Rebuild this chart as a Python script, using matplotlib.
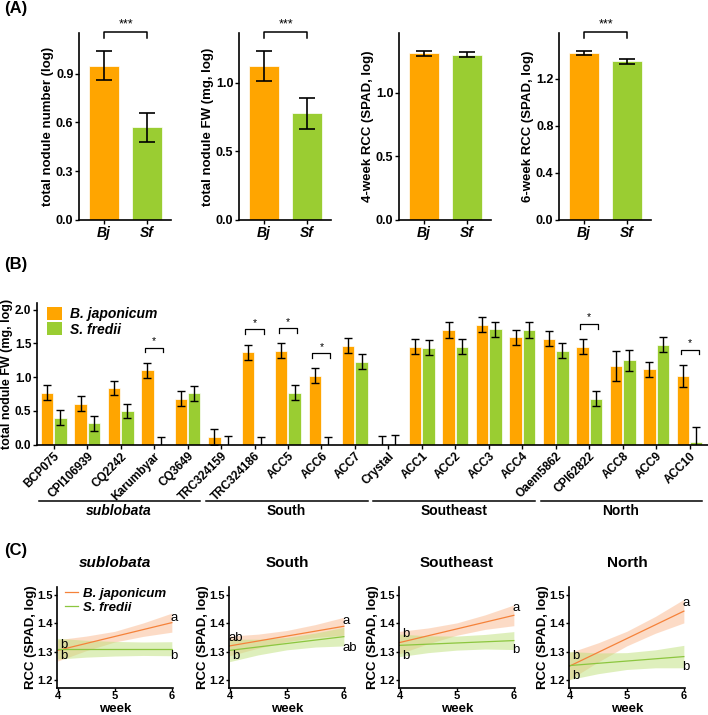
import matplotlib
matplotlib.use("Agg")
import matplotlib.pyplot as plt
import numpy as np
from matplotlib.patches import Patch

plt.rcParams['font.family'] = ['Liberation Sans', 'DejaVu Sans']
plt.rcParams['font.weight'] = 'bold'
plt.rcParams['axes.labelweight'] = 'bold'

W, H = 708, 715
ORANGE = '#FFA500'
GREEN = '#9ACD32'
LORANGE = '#F5823A'

# ---------------- Panel A data ----------------
a_ylabels = ['total nodule number (log)', 'total nodule FW (mg, log)',
             '4-week RCC (SPAD, log)', '6-week RCC (SPAD, log)']
a_cats = ['Bj', 'Sf']
a_means = [[0.95, 0.57], [1.12, 0.775], [1.31, 1.30], [1.42, 1.35]]
a_errs = [[0.09, 0.09], [0.11, 0.11], [0.02, 0.02], [0.02, 0.02]]
a_sig = ['***', '***', '', '***']
a_yticks = [[0.0, 0.3, 0.6, 0.9], [0.0, 0.5, 1.0], [0.0, 0.5, 1.0], [0.0, 0.4, 0.8, 1.2]]
a_ylim = [1.15, 1.36, 1.47, 1.59]

# ---------------- Panel B data ----------------
strains = ['BCP075', 'CPI106939', 'CQ2242', 'Karumbyar', 'CQ3649',
           'TRC324159', 'TRC324186', 'ACC5', 'ACC6', 'ACC7',
           'Crystal', 'ACC1', 'ACC2', 'ACC3', 'ACC4',
           'Oaem5862', 'CPI62822', 'ACC8', 'ACC9', 'ACC10']
bj_mean = [0.77, 0.61, 0.84, 1.10, 0.68, 0.12, 1.37, 1.39, 1.02, 1.47,
           0.0, 1.45, 1.70, 1.78, 1.59, 1.57, 1.45, 1.17, 1.12, 1.02]
bj_err = [0.11, 0.11, 0.11, 0.11, 0.11, 0.12, 0.11, 0.11, 0.11, 0.11,
          0.13, 0.11, 0.12, 0.11, 0.11, 0.11, 0.11, 0.22, 0.11, 0.16]
sf_mean = [0.40, 0.32, 0.50, 0.0, 0.76, 0.0, 0.0, 0.77, 0.0, 1.23,
           0.0, 1.44, 1.45, 1.71, 1.70, 1.39, 0.68, 1.25, 1.48, 0.035]
sf_err = [0.11, 0.11, 0.11, 0.11, 0.11, 0.13, 0.11, 0.11, 0.11, 0.11,
          0.15, 0.11, 0.11, 0.11, 0.12, 0.11, 0.11, 0.16, 0.11, 0.23]
sig_idx = [3, 6, 7, 8, 16, 19]
groups = ['sublobata', 'South', 'Southeast', 'North']

# ---------------- Panel C data ----------------
weeks = [4, 6]
band_x = [4, 4.5, 5, 5.5, 6]
c_bj_line = [[1.304, 1.403], [1.320, 1.390], [1.332, 1.429], [1.248, 1.444]]
c_sf_line = [[1.310, 1.310], [1.304, 1.353], [1.322, 1.339], [1.250, 1.282]]
c_bj_lo = [[1.266, 1.303, 1.334, 1.354, 1.369],
           [1.285, 1.312, 1.335, 1.350, 1.358],
           [1.292, 1.328, 1.358, 1.379, 1.392],
           [1.200, 1.263, 1.320, 1.365, 1.402]]
c_bj_hi = [[1.342, 1.355, 1.372, 1.402, 1.437],
           [1.355, 1.362, 1.375, 1.396, 1.422],
           [1.372, 1.384, 1.402, 1.431, 1.466],
           [1.296, 1.331, 1.372, 1.425, 1.486]]
c_sf_lo = [[1.273, 1.280, 1.284, 1.286, 1.285],
           [1.264, 1.288, 1.306, 1.316, 1.320],
           [1.282, 1.296, 1.305, 1.309, 1.307],
           [1.200, 1.221, 1.236, 1.242, 1.242]]
c_sf_hi = [[1.347, 1.340, 1.336, 1.334, 1.335],
           [1.344, 1.344, 1.350, 1.366, 1.386],
           [1.362, 1.356, 1.355, 1.361, 1.371],
           [1.300, 1.295, 1.296, 1.306, 1.322]]
c_letters = [
    [(4.1, 1.322, 'b'), (4.1, 1.283, 'b'), (6.0, 1.418, 'a'), (6.0, 1.283, 'b')],
    [(4.1, 1.348, 'ab'), (4.1, 1.283, 'b'), (6.0, 1.409, 'a'), (6.0, 1.311, 'ab')],
    [(4.1, 1.362, 'b'), (4.1, 1.283, 'b'), (6.0, 1.456, 'a'), (6.0, 1.305, 'b')],
    [(4.1, 1.284, 'b'), (4.1, 1.212, 'b'), (6.0, 1.474, 'a'), (6.0, 1.244, 'b')],
]

fig = plt.figure(figsize=(W / 100, H / 100), dpi=100)


def ax_px(l, t, r, b):
    return fig.add_axes([l / W, 1 - b / H, (r - l) / W, (b - t) / H])


def style(ax, fs=8, length=3, pad=1.2):
    for s in ['top', 'right']:
        ax.spines[s].set_visible(False)
    for s in ['left', 'bottom']:
        ax.spines[s].set_linewidth(1.2)
    ax.tick_params(width=1.0, length=length, labelsize=fs, pad=pad)
    for lab in ax.get_xticklabels() + ax.get_yticklabels():
        lab.set_fontweight('bold')


# ---------------- Panel A ----------------
fig.text(4 / W, 1 - 9 / H, '(A)', fontsize=12, fontweight='bold', va='center')
lefts = [79, 239, 399, 559]
for i in range(4):
    ax = ax_px(lefts[i], 33, lefts[i] + 92, 220)
    x = np.arange(2)
    ax.bar(x, a_means[i], width=0.7, color=[ORANGE, GREEN], edgecolor='white', linewidth=0.5)
    ax.errorbar(x, a_means[i], yerr=a_errs[i], fmt='none', ecolor='black',
                elinewidth=1.2, capsize=6, capthick=1.2)
    ax.set_xlim(-0.58, 1.55)
    ax.set_ylim(0, a_ylim[i])
    ax.set_yticks(a_yticks[i])
    ax.set_yticklabels([f'{v:.1f}' for v in a_yticks[i]])
    ax.set_xticks(x)
    ax.set_xticklabels(a_cats)
    ax.set_ylabel(a_ylabels[i], fontsize=9.5)
    ax.yaxis.label.set_va('center')
    ax.yaxis.set_label_coords(-0.335, 0.5)
    style(ax, 9, length=3, pad=1)
    for lab in ax.get_xticklabels():
        lab.set_fontstyle('italic')
        lab.set_fontsize(10)
    if a_sig[i]:
        yb = a_ylim[i] * 1.008
        leg = a_ylim[i] * 0.035
        ax.plot([0, 0, 1, 1], [yb - leg, yb, yb, yb - leg], color='black', lw=1.1, clip_on=False)
        ax.text(0.5, yb + a_ylim[i] * 0.005, a_sig[i], ha='center', va='bottom', fontsize=9,
                fontweight='normal')

# ---------------- Panel B ----------------
fig.text(4 / W, 1 - 265 / H, '(B)', fontsize=12, fontweight='bold', va='center')
axb = ax_px(37, 303, 708, 444.7)
n = len(strains)
xb = np.arange(n)
off = 0.2
bw = 0.37
axb.bar(xb - off, bj_mean, width=bw, color=ORANGE, edgecolor='white', linewidth=0.5)
axb.bar(xb + off, sf_mean, width=bw, color=GREEN, edgecolor='white', linewidth=0.5)
axb.errorbar(xb - off, bj_mean, yerr=bj_err, fmt='none', ecolor='black', elinewidth=1.0,
             capsize=3, capthick=1.0)
axb.errorbar(xb + off, sf_mean, yerr=sf_err, fmt='none', ecolor='black', elinewidth=1.0,
             capsize=3, capthick=1.0)
axb.set_xlim(-0.5, n - 0.45)
axb.set_ylim(0, 2.1)
axb.set_yticks([0, 0.5, 1.0, 1.5, 2.0])
axb.set_yticklabels(['0.0', '0.5', '1.0', '1.5', '2.0'])
axb.set_xticks(xb)
axb.set_xticklabels(strains, rotation=45, ha='right', rotation_mode='anchor')
axb.set_ylabel('total nodule FW (mg, log)', fontsize=9)
axb.yaxis.label.set_va('center')
axb.yaxis.set_label_coords(-0.044, 0.5)
style(axb, 8.5, length=3, pad=1)
for lab in axb.get_xticklabels():
    lab.set_fontsize(8.5)
for i in sig_idx:
    yb = max(bj_mean[i] + bj_err[i], sf_mean[i] + sf_err[i]) + 0.23
    axb.plot([i - 0.27, i - 0.27, i + 0.27, i + 0.27], [yb - 0.07, yb, yb, yb - 0.07],
             color='black', lw=0.9)
    axb.text(i, yb + 0.02, '*', ha='center', va='bottom', fontsize=7.5, fontweight='normal')
handles = [Patch(facecolor=ORANGE, edgecolor='none'), Patch(facecolor=GREEN, edgecolor='none')]
axb.legend(handles, ['B. japonicum', 'S. fredii'], loc='upper left',
           bbox_to_anchor=(0.0, 1.04), frameon=False, handlelength=1.1, handleheight=1.1,
           handletextpad=0.6, labelspacing=0.05, borderaxespad=0.3,
           prop={'style': 'italic', 'weight': 'bold', 'size': 10})
tr = axb.get_xaxis_transform()
for g, name in enumerate(groups):
    axb.plot([5 * g - 0.45, 5 * g + 4.38], [-0.397, -0.397], color='black', lw=1.1,
             transform=tr, clip_on=False)
    axb.text(5 * g + 1.95, -0.465, name, transform=tr, ha='center', va='center', fontsize=10,
             fontweight='bold', fontstyle='italic' if g == 0 else 'normal')

# ---------------- Panel C ----------------
fig.text(4 / W, 1 - 550 / H, '(C)', fontsize=12, fontweight='bold', va='center')
clefts = [57, 229, 399, 569]
c_top, c_bot = 587, 688
c_h = c_bot - c_top
for i in range(4):
    ax = ax_px(clefts[i], c_top, clefts[i] + 116, c_bot)
    ax.fill_between(band_x, c_bj_lo[i], c_bj_hi[i], color='#FBB98F', alpha=0.5, lw=0)
    ax.fill_between(band_x, c_sf_lo[i], c_sf_hi[i], color='#BFE07A', alpha=0.5, lw=0)
    ax.plot(weeks, c_bj_line[i], color=LORANGE, lw=0.9, label='B. japonicum')
    ax.plot(weeks, c_sf_line[i], color='#8CC63F', lw=0.9, label='S. fredii')
    ax.set_xlim(3.99, 6.02)
    ax.set_ylim(1.17, 1.53)
    ax.set_xticks([4, 5, 6])
    ax.set_yticks([1.2, 1.3, 1.4, 1.5])
    ax.set_yticklabels(['1.2', '1.3', '1.4', '1.5'])
    ax.set_xlabel('week', fontsize=9.5)
    ax.xaxis.label.set_va('center')
    ax.xaxis.set_label_coords(0.5, -(708.5 - c_bot) / c_h)
    ax.set_ylabel('RCC (SPAD, log)', fontsize=9.5)
    ax.yaxis.label.set_va('center')
    ax.yaxis.set_label_coords(-0.225, 0.5)
    ax.set_title(groups[i], fontsize=11, fontweight='bold',
                 fontstyle='italic' if i == 0 else 'normal', y=1 + (c_top - 571.7) / c_h,
                 va='center')
    style(ax, 8, length=2, pad=1)
    ax.tick_params(axis='x', length=2, pad=0.5)
    for (lx, ly, lt) in c_letters[i]:
        ax.text(lx if lx < 5 else 5.97, ly, lt, ha='center' if lx < 5 else 'left', va='center',
                fontsize=9.5, fontweight='normal', clip_on=False)
    if i == 0:
        ax.legend(loc='upper left', bbox_to_anchor=(0.0, 1.07), frameon=False, handlelength=1.0,
                  handletextpad=0.4, labelspacing=0.1, borderaxespad=0.2,
                  prop={'style': 'italic', 'size': 9.5})

fig.savefig('out.png', dpi=100)
